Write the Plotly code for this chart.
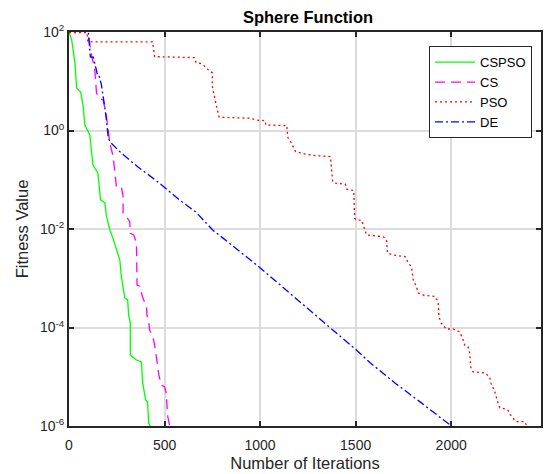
import plotly.graph_objects as go

# ---- data (iteration, log10 fitness) ----
cspso_x = [0, 14, 31, 40, 61, 73, 83, 109, 125, 151, 165, 188, 196, 214, 229, 248, 266, 274, 283, 292,
           307, 312, 321, 321, 353, 379, 385, 401, 411, 417, 425, 430]
cspso_log = [2.0, 1.84, 1.37, 0.86, 0.78, 0.52, 0.11, -0.09, -0.70, -0.86, -1.41, -1.47, -1.74, -2.02,
             -2.18, -2.43, -2.63, -2.97, -3.20, -3.40, -3.44, -3.75, -3.91, -4.56, -4.66, -4.70, -5.11,
             -5.47, -5.51, -5.94, -6.0, -6.1]

cs_x = [80, 99, 118, 127, 135, 144, 161, 179, 187, 196, 205, 214, 231, 240, 248, 274, 283, 283, 301, 318,
        321, 339, 353, 356, 370, 384, 405, 408, 418, 422, 439, 448, 457, 462, 470, 483, 500, 509, 512,
        517, 526, 527]
cs_log = [2.2, 2.0, 1.53, 1.36, 1.23, 0.76, 0.65, 0.62, 0.48, 0.28, 0.01, -0.26, -0.53, -0.80, -1.14,
          -1.14, -1.34, -1.68, -1.75, -1.85, -2.09, -2.12, -2.28, -3.14, -3.16, -3.37, -3.58, -3.75,
          -3.91, -4.05, -4.19, -4.36, -4.56, -4.73, -4.96, -5.17, -5.20, -5.34, -5.54, -5.81, -5.98, -6.1]

pso_x = [0, 94, 99, 437, 448, 656, 665, 698, 724, 750, 750, 760, 776, 786, 943, 984, 1026, 1030, 1141,
         1141, 1146, 1160, 1177, 1186, 1238, 1290, 1368, 1380, 1394, 1446, 1453, 1490, 1495, 1505, 1531,
         1542, 1557, 1646, 1661, 1667, 1698, 1759, 1776, 1792, 1802, 1818, 1828, 1854, 1915, 1932, 1936,
         1948, 1974, 2010, 2045, 2062, 2071, 2088, 2097, 2102, 2114, 2175, 2201, 2208, 2228, 2245, 2254,
         2280, 2297, 2311, 2323, 2338, 2384, 2396, 2400]
pso_log = [1.99, 1.99, 1.80, 1.80, 1.50, 1.48, 1.38, 1.35, 1.25, 1.17, 0.89, 0.69, 0.42, 0.27, 0.25,
           0.21, 0.20, 0.11, 0.10, 0.01, -0.15, -0.23, -0.36, -0.43, -0.48, -0.51, -0.53, -1.04, -1.07,
           -1.09, -1.19, -1.22, -1.78, -1.82, -1.82, -1.95, -2.12, -2.16, -2.22, -2.49, -2.53, -2.56,
           -2.69, -2.77, -3.04, -3.17, -3.30, -3.34, -3.37, -3.48, -3.78, -3.91, -4.03, -4.03, -4.09,
           -4.25, -4.36, -4.39, -4.52, -4.80, -4.90, -4.92, -5.00, -5.13, -5.30, -5.53, -5.63, -5.65,
           -5.68, -5.78, -5.84, -5.91, -5.91, -6.0, -6.1]

de_x = [85, 101, 112, 127, 149, 156, 170, 179, 187, 196, 205, 214, 240, 274, 361, 474, 578, 665, 752,
        995, 1359, 1505, 1577, 1707, 1837, 2001, 2005]
de_log = [2.2, 2.0, 1.49, 1.49, 1.13, 1.13, 0.92, 0.72, 0.48, 0.21, -0.13, -0.23, -0.33, -0.46, -0.74,
          -1.07, -1.41, -1.66, -2.02, -2.77, -3.98, -4.46, -4.72, -5.13, -5.51, -6.0, -6.1]

series_names = ["CSPSO", "CS", "PSO", "DE"]
series_colors = ["#00ff00", "#ff00ff", "#ff0000", "#0000ff"]
series_dash = ["solid", "10px,6px", "2px,3px", "8px,3px,2px,3px"]
series_x = [cspso_x, cs_x, pso_x, de_x]
series_log = [cspso_log, cs_log, pso_log, de_log]

ytick_exp = [2, 0, -2, -4, -6]
xtick_vals = [0, 500, 1000, 1500, 2000]

fig = go.Figure()
for name, col, dash, xs, ls in zip(series_names, series_colors, series_dash, series_x, series_log):
    fig.add_trace(go.Scatter(
        x=xs, y=[10 ** v for v in ls], mode="lines", name=name,
        line=dict(color=col, width=1.3, dash=dash),
    ))

font_color = "#262626"
fig.update_layout(
    width=546, height=474,
    margin=dict(l=69, r=3, t=32, b=48),
    paper_bgcolor="white", plot_bgcolor="white",
    font=dict(family="Liberation Sans, Arial, sans-serif", size=14, color=font_color),
    title=dict(text="<b>Sphere Function</b>", x=308 / 546, xanchor="center",
               y=1 - 17 / 474, yanchor="middle", font=dict(size=16.5, color="black")),
    showlegend=True,
    legend=dict(x=0.981, y=0.964, xanchor="right", yanchor="top",
                bgcolor="white", bordercolor="#262626", borderwidth=1,
                font=dict(size=13, color="black"), tracegroupgap=0,
                itemwidth=40),
)
fig.update_xaxes(
    range=[0, 2470], tickvals=xtick_vals, ticktext=[str(v) for v in xtick_vals],
    showgrid=True, gridcolor="#dcdcdc", gridwidth=1.5,
    showline=True, linecolor=font_color, linewidth=2, mirror="ticks",
    ticks="inside", ticklen=5, tickwidth=2, tickcolor=font_color,
    zeroline=False, tickfont=dict(size=14), ticklabelstandoff=5,
    title=dict(text="Number of Iterations", font=dict(size=16.5), standoff=6),
)
fig.update_yaxes(
    type="log", range=[-6, 2],
    tickvals=[10 ** e for e in ytick_exp],
    ticktext=["10<sup>%d</sup>" % e for e in ytick_exp],
    showgrid=True, gridcolor="#dcdcdc", gridwidth=1.5,
    showline=True, linecolor=font_color, linewidth=2, mirror="ticks",
    ticks="inside", ticklen=5, tickwidth=2, tickcolor=font_color,
    zeroline=False, tickfont=dict(size=14),
    title=dict(text="Fitness Value", font=dict(size=16.5), standoff=7),
)

fig.write_html("out.html")
